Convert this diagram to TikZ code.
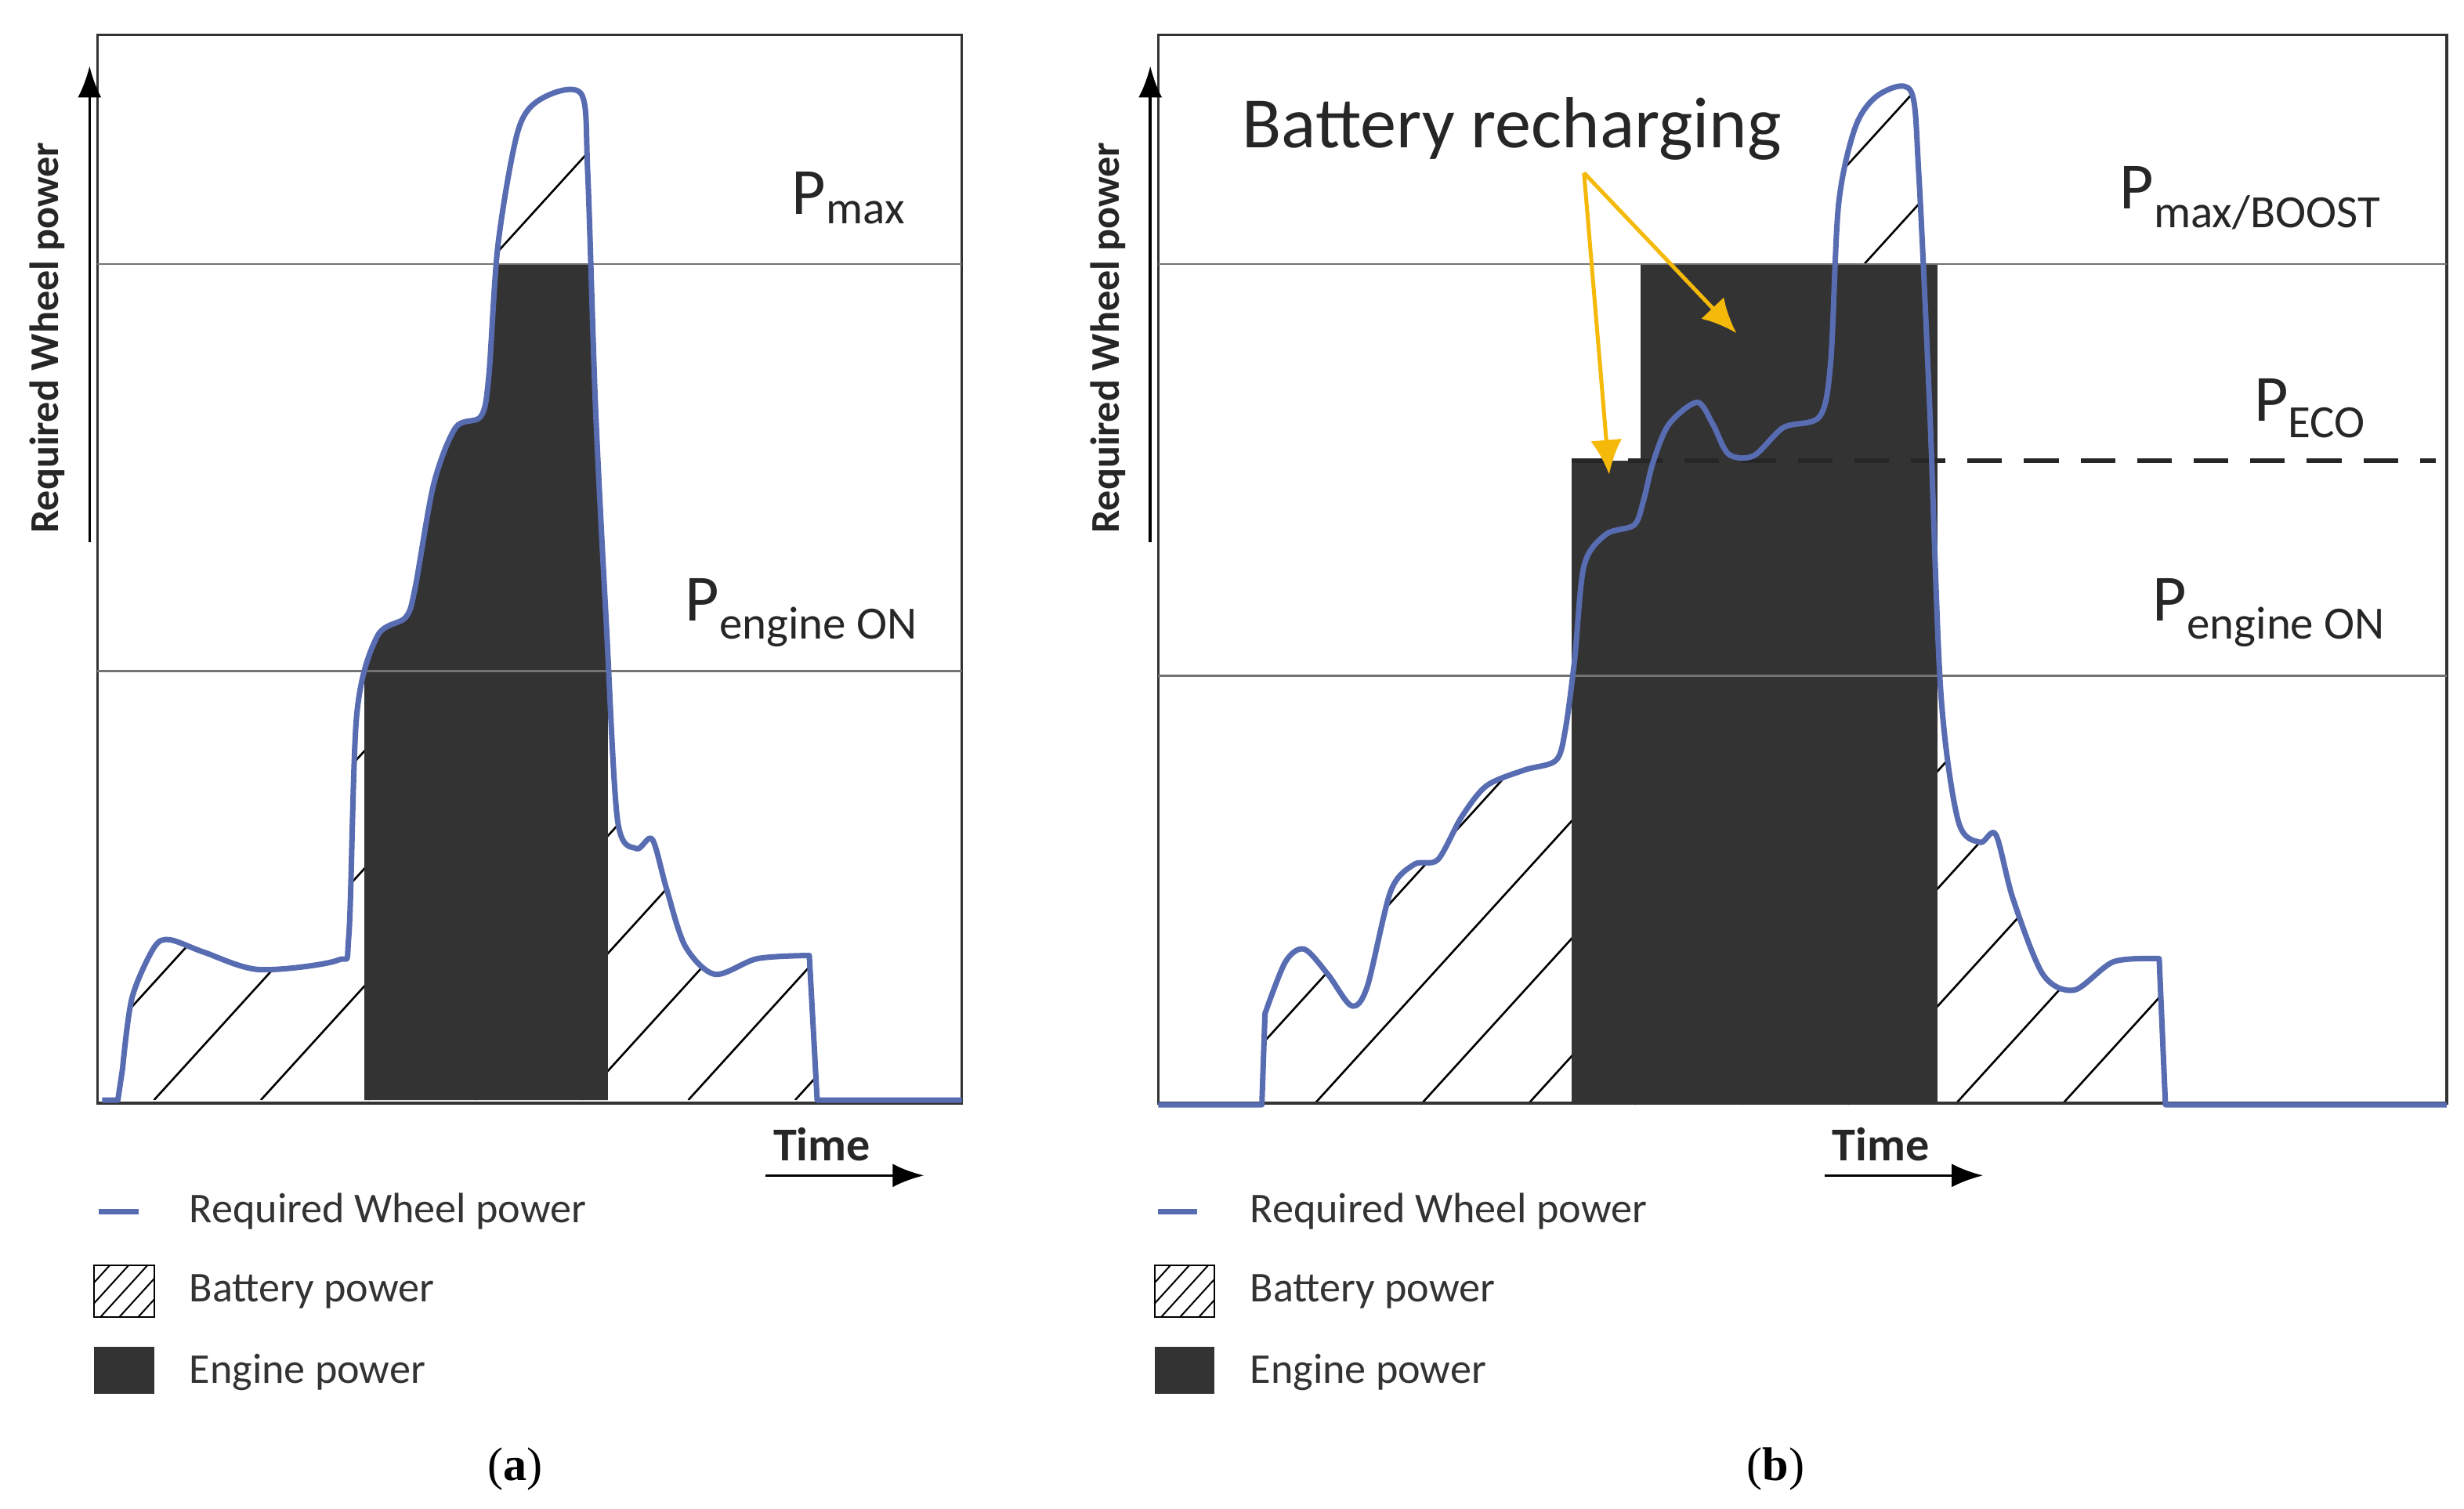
\documentclass[tikz,border=0pt]{standalone}
\usepackage{fontspec}
\setmainfont{Carlito}
\newfontfamily\capfont{Liberation Serif}
\usetikzlibrary{arrows.meta}
\begin{document}
\begin{tikzpicture}[x=1pt,y=-1pt,
  frame/.style={draw=black!80,line width=1.6pt},
  level/.style={draw=black!55,line width=1.2pt},
  curve/.style={draw={rgb,255:red,88;green,108;blue,178},line width=3.5pt,line join=round},
  hatch/.style={draw=black,line width=1.3pt},
  eng/.style={fill=black!80},
  lab/.style={font=\fontsize{42}{44}\selectfont,text=black!85},
  leg/.style={font=\fontsize{27}{29}\selectfont,text=black!80,anchor=west},
  axarr/.style={line width=1.8pt,-{Latex[length=20pt,width=15pt]}},
  arr/.style={draw={rgb,255:red,245;green,185;blue,10},line width=2.5pt,-{Latex[length=22pt,width=20pt]}}]
\useasboundingbox (0,0) rectangle (1568,960);
\def\curveA{(65,700) -- (75,700) -- plot[smooth,tension=0.5] coordinates {(78,680) (84,635) (98,603) (108,598) (130,606) (165,617) (215,611) (222,595) (227,455) (240,405) (258,393) (264,375) (276,308) (290,272) (306,265) (311,240) (317,155) (330,82) (346,62) (370,60) (374,110) (379,260) (386,400) (393,522) (405,540) (415,534) (424,565) (436,602) (455,620) (482,610) (515,608)} -- (520,700) -- (612,700)}
\def\curveB{(737,703) -- (803,703) -- plot[smooth,tension=0.5] coordinates {(805,645) (818,612) (830,604) (845,620) (860,640) (870,628) (885,567) (900,550) (915,547) (930,520) (946,500) (970,490) (990,484) (996,465) (1002,420) (1008,360) (1022,340) (1040,334) (1046,318) (1052,294) (1062,270) (1080,256) (1090,270) (1100,289) (1116,290) (1135,272) (1158,265) (1165,230) (1170,130) (1181,80) (1196,60) (1216,58) (1221,110) (1228,260) (1235,440) (1246,522) (1260,536) (1270,531) (1281,572) (1300,620) (1320,630) (1345,612) (1374,610)} -- (1378,703) -- (1557,703)}
% ---------- panel (a)
\begin{scope}
\clip \curveA -- cycle;
\foreach \i in {-6,...,12} \draw[hatch] (30+\i*68,700) -- ++(600,-660);
\fill[eng] (232,168) rectangle (387,702);
\end{scope}
\draw[frame] (62,22) rectangle (612,702);
\draw[level] (62,168) -- (612,168);
\draw[level] (62,427) -- (612,427);
\draw[curve] \curveA;
\draw[axarr] (57,345) -- (57,42);
\node[rotate=90,font=\fontsize{26}{28}\selectfont\bfseries,text=black!85] (ya) at (30,215) {Required Wheel power};
\node[lab] (pmaxa) at (540,126) {P\textsubscript{max}};
\node[lab] (pona) at (510,390) {P\textsubscript{engine ON}};
\node[font=\fontsize{30}{32}\selectfont\bfseries,text=black!85] (ta) at (523,728) {Time};
\draw[axarr] (487,748) -- (588,748);
% legend a
\draw[curve] (63,771) -- (88,771);
\node[leg] (la1) at (117,771) {Required Wheel power};
\begin{scope}\clip (60,805) rectangle (98,838);
\foreach \i in {0,...,5} \draw[line width=1pt] (40+\i*12,838) -- ++(40,-44);\end{scope}
\draw[line width=1pt] (60,805) rectangle (98,838);
\node[leg] (la2) at (117,822) {Battery power};
\fill[eng] (60,857) rectangle (98,887);
\node[leg] (la3) at (117,873) {Engine power};
\node[font=\fontsize{30}{32}\selectfont\capfont] (capa) at (328,935) {(\textbf{a})};
% ---------- panel (b)
\begin{scope}
\clip \curveB -- cycle;
\foreach \i in {-6,...,14} \draw[hatch] (700+\i*68,703) -- ++(600,-660);
\end{scope}
\fill[eng] (1000,293) rectangle (1046,702);
\fill[eng] (1044,168) rectangle (1233,702);
\draw[frame] (737,22) rectangle (1557,702);
\draw[level] (737,168) -- (1557,168);
\draw[level] (737,430) -- (1557,430);
\draw[line width=3pt,dash pattern=on 22pt off 14pt,black!85] (1000,293) -- (1550,293);
\draw[curve] \curveB;
\draw[axarr] (732,345) -- (732,42);
\node[rotate=90,font=\fontsize{26}{28}\selectfont\bfseries,text=black!85] (yb) at (705,215) {Required Wheel power};
\node[lab] (pmaxb) at (1432,126) {P\textsubscript{max/BOOST}};
\node[lab] (pecob) at (1470,260) {P\textsubscript{ECO}};
\node[lab] (ponb) at (1444,390) {P\textsubscript{engine ON}};
\node[font=\fontsize{30}{32}\selectfont\bfseries,text=black!85] (tb) at (1197,728) {Time};
\draw[axarr] (1161,748) -- (1262,748);
\node[font=\fontsize{46}{48}\selectfont,text=black!85] (br) at (962,82) {Battery recharging};
\coordinate (bs) at (1008,110);
\coordinate (e1) at (1024,302);
\coordinate (e2) at (1105,212);
\draw[arr] (bs) -- (e1);
\draw[arr] (bs) -- (e2);
% legend b
\draw[curve] (737,771) -- (762,771);
\node[leg] (lb1) at (792,771) {Required Wheel power};
\begin{scope}\clip (735,805) rectangle (773,838);
\foreach \i in {0,...,5} \draw[line width=1pt] (715+\i*12,838) -- ++(40,-44);\end{scope}
\draw[line width=1pt] (735,805) rectangle (773,838);
\node[leg] (lb2) at (792,822) {Battery power};
\fill[eng] (735,857) rectangle (773,887);
\node[leg] (lb3) at (792,873) {Engine power};
\node[font=\fontsize{30}{32}\selectfont\capfont] (capb) at (1130,935) {(\textbf{b})};
\end{tikzpicture}
\end{document}
